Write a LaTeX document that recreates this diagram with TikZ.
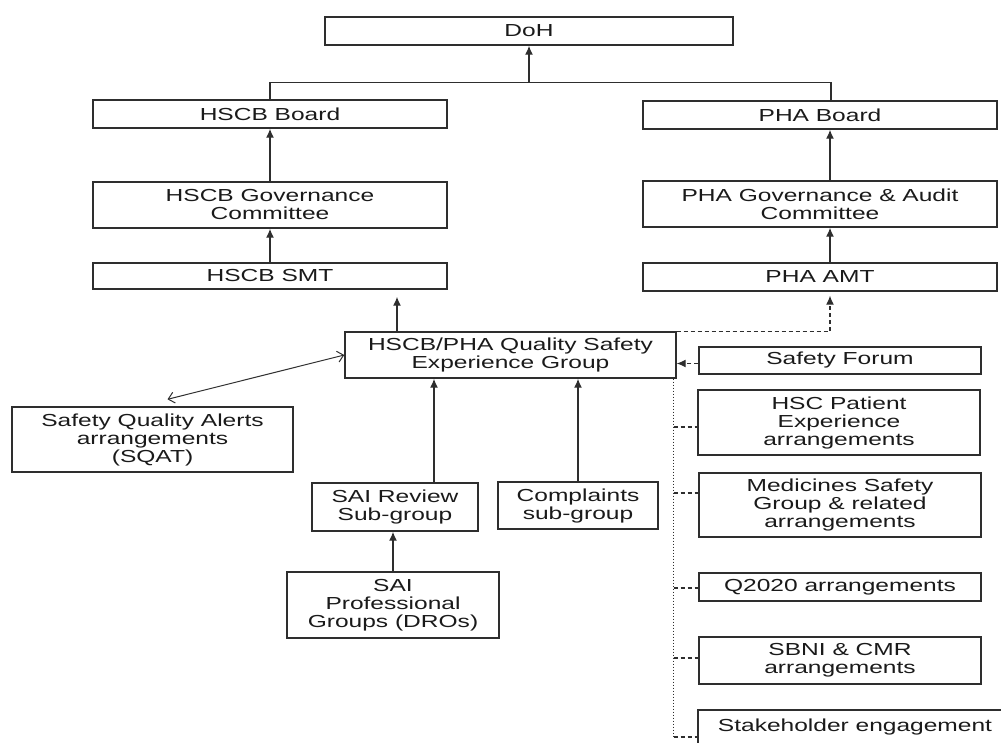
\documentclass[tikz,border=0pt]{standalone}
\usepackage{fontspec}
\setmainfont{Liberation Sans}[FakeStretch=1.41]
\usepackage{tikz}
\usetikzlibrary{arrows.meta}
\definecolor{linegrey}{HTML}{2E2E2E}
\definecolor{textdark}{HTML}{1A1A1A}

\begin{document}
\begin{tikzpicture}[x=1pt, y=-1pt,
    box/.style={draw=linegrey, line width=1.4pt, inner sep=0pt, align=center, text=textdark, font=\fontsize{17.4}{18}\selectfont},
    arr/.style={draw=linegrey, line width=1.4pt, -{Latex[length=9pt,width=8pt]}},
    dbl/.style={draw=linegrey, line width=1pt, {Straight Barb[length=6pt,width=11pt]}-{Straight Barb[length=6pt,width=11pt]}},
    dashline/.style={draw=linegrey, line width=1.2pt, dash pattern=on 4pt off 3pt},
    dotline/.style={draw=linegrey, line width=1.2pt, dash pattern=on 1.5pt off 1.5pt}]
    \useasboundingbox (0,0) rectangle (1001,742);

    % Boards and committees
    \node[box, minimum width=408pt, minimum height=28pt] (doh) at (529,31) {DoH};
    \node[box, minimum width=354pt, minimum height=28pt] (hscbboard) at (270,114) {HSCB Board};
    \node[box, minimum width=354pt, minimum height=28pt] (phaboard) at (820,115) {PHA Board};
    \node[box, minimum width=354pt, minimum height=46pt] (hscbgov) at (270,205) {HSCB Governance\\Committee};
    \node[box, minimum width=354pt, minimum height=46pt] (phagov) at (820,204) {PHA Governance \& Audit\\Committee};
    \node[box, minimum width=354pt, minimum height=26pt] (hscbsmt) at (270,276) {HSCB SMT};
    \node[box, minimum width=354pt, minimum height=28pt] (phaamt) at (820,277) {PHA AMT};

    % Central group and sub-groups
    \node[box, minimum width=331pt, minimum height=46pt] (qse) at (510.5,355) {HSCB/PHA Quality Safety\\Experience Group};
    \node[box, minimum width=281pt, minimum height=65pt] (sqat) at (152.5,439.5) {Safety Quality Alerts\\arrangements\\(SQAT)};
    \node[box, minimum width=166pt, minimum height=48pt] (saireview) at (395,507) {SAI Review\\Sub-group};
    \node[box, minimum width=160pt, minimum height=47pt] (complaints) at (578,505.5) {Complaints\\sub-group};
    \node[box, minimum width=212pt, minimum height=66pt] (saiprof) at (393,605) {SAI\\Professional\\Groups (DROs)};

    % Related arrangements on the right
    \node[box, minimum width=282pt, minimum height=27pt] (sforum) at (840,360.5) {Safety Forum};
    \node[box, minimum width=282pt, minimum height=65pt] (hscpx) at (839,422.5) {HSC Patient\\Experience\\arrangements};
    \node[box, minimum width=282pt, minimum height=64pt] (medsafe) at (840,505) {Medicines Safety\\Group \& related\\arrangements};
    \node[box, minimum width=282pt, minimum height=28pt] (qtwenty) at (840,587) {Q2020 arrangements};
    \node[box, minimum width=282pt, minimum height=47pt] (sbni) at (840,660.5) {SBNI \& CMR\\arrangements};
    \node[box, minimum width=314pt, minimum height=34pt] (stakeholder) at (855,727) {Stakeholder engagement};

    % Reporting lines upwards
    \draw[draw=linegrey, line width=1.4pt] (hscbboard.north) -- ++(0,-17) -| ([xshift=11pt]phaboard.north);
    \draw[arr] ([yshift=17pt]hscbboard.north -| doh.south) -- (doh.south);
    \draw[arr] (hscbgov.north) -- (hscbboard.south);
    \draw[arr] (hscbsmt.north) -- (hscbgov.south);
    \draw[arr] ([xshift=10pt]phagov.north) -- ([xshift=10pt]phaboard.south);
    \draw[arr] ([xshift=10pt]phaamt.north) -- ([xshift=10pt]phagov.south);
    \draw[arr, shorten >=7pt] ([xshift=-113.5pt]qse.north) -- ([xshift=-113.5pt]qse.north |- hscbsmt.south);
    \draw[dashline, arr, line width=1.2pt, shorten >=4pt] (qse.north east) -| ([xshift=10pt]phaamt.south);
    \draw[dbl] (qse.west) -- ([xshift=15pt,yshift=7pt]sqat.north);
    \draw[arr] ([xshift=39pt]saireview.north) -- ([xshift=39pt]saireview.north |- qse.south);
    \draw[arr] (complaints.north) -- (complaints.north |- qse.south);
    \draw[arr] (saiprof.north) -- (saiprof.north |- saireview.south);
    \draw[dashline, arr, line width=1.2pt] ([yshift=-3pt]sforum.west) -- ([yshift=-3pt]sforum.west -| qse.east);

    % Dotted spine with dashed ticks
    \coordinate (spinetop) at ([xshift=-3pt]qse.south east);
    \coordinate (spinebot) at ([yshift=-10pt]stakeholder.west -| spinetop);
    \draw[dotline] (spinetop) -- (spinebot);
    \draw[dashline] (spinebot) -- ([yshift=-10pt]stakeholder.west);
    \foreach \n/\s in {hscpx/-4.5, medsafe/12, qtwenty/-1, sbni/2.5}
        \draw[dashline] ([yshift=\s pt]\n.west -| spinetop) -- ([yshift=\s pt]\n.west);
\end{tikzpicture}
\end{document}
